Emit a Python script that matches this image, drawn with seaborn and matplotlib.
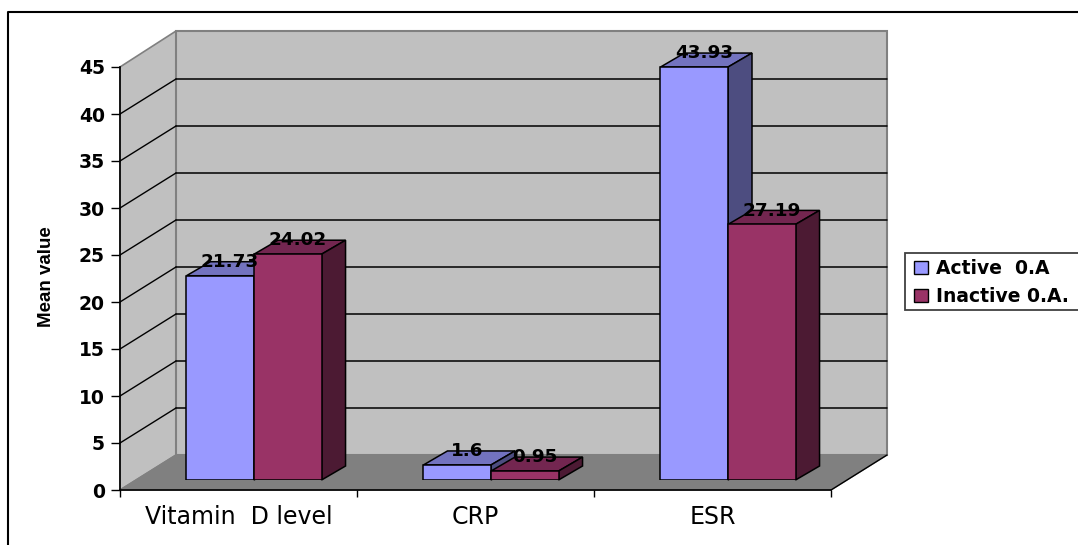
import pandas as pd
import matplotlib
matplotlib.use("Agg")
import matplotlib.pyplot as plt
import seaborn as sns
from matplotlib.patches import Polygon, Rectangle

categories = ["Vitamin  D level", "CRP", "ESR"]
active = [21.73, 1.6, 43.93]
inactive = [24.02, 0.95, 27.19]
series_names = ["Active  0.A", "Inactive 0.A."]
y_ticks = list(range(0, 50, 5))

W, H = 1078, 545
FACE = {"Active  0.A": "#9999FF", "Inactive 0.A.": "#993366"}
TOP = {"Active  0.A": "#7373BF", "Inactive 0.A.": "#732650"}
SIDE = {"Active  0.A": "#4D4D80", "Inactive 0.A.": "#4C1A33"}

df = pd.DataFrame({
    "category": categories * 2,
    "series": [series_names[0]] * 3 + [series_names[1]] * 3,
    "value": active + inactive,
})

sns.set_theme(style="white")
plt.rcParams["font.family"] = ["DejaVu Sans"]

fig = plt.figure(figsize=(W / 100, H / 100), dpi=100)


def px_axes(left, top, right, bottom):
    return fig.add_axes([left / W, 1 - bottom / H, (right - left) / W, (bottom - top) / H])


# fondo: paredes y suelo en pixeles
bg = fig.add_axes([0, 0, 1, 1])
bg.set_xlim(0, W)
bg.set_ylim(H, 0)
bg.axis("off")
bg.plot([8, 8, W], [H, 12, 12], color="black", lw=1.5, clip_on=False)
bg.add_patch(Polygon([(120, 67), (176, 31), (176, 455), (120, 490)], fc="#C0C0C0", ec="#808080", lw=1.2))
bg.add_patch(Rectangle((176, 31), 711, 424, fc="#C0C0C0", ec="#808080", lw=1.5))
bg.add_patch(Polygon([(120, 490), (176, 455), (887, 455), (831, 490)], fc="#808080", ec="#808080", lw=1))
for t in y_ticks[1:-1]:
    yf = 490 - t * 9.4
    bg.plot([120, 176], [yf, yf - 35], color="black", lw=1)
    bg.plot([176, 887], [yf - 35, yf - 35], color="black", lw=1.1)
bg.plot([831, 887], [490, 455], color="black", lw=1)

# eje frontal con las marcas
ax = px_axes(120, 67, 831, 490)
ax.patch.set_alpha(0)
ax.set_xlim(-0.5, 2.5)
ax.set_ylim(0, 45)
ax.set_yticks(y_ticks)
ax.set_yticklabels([str(t) for t in y_ticks], fontsize=13.5, fontweight="bold", color="black")
ax.set_xticks([-0.5, 0.5, 1.5, 2.5])
ax.set_xticklabels([])
ax.set_xticks([0, 1, 2], minor=True)
ax.set_xticklabels(categories, minor=True, fontsize=17, color="black")
ax.tick_params(axis="x", which="major", length=5, width=1, color="black", bottom=True)
ax.tick_params(axis="x", which="minor", length=0, pad=11, bottom=True)
ax.tick_params(axis="y", length=6.5, width=1, color="black", left=True, pad=4.5)
for s in ["top", "right"]:
    ax.spines[s].set_visible(False)
for s in ["left", "bottom"]:
    ax.spines[s].set_color("black")
    ax.spines[s].set_linewidth(1.2)
fig.text(47 / W, 1 - 277 / H, "Mean value", rotation=90, ha="center", va="center",
         fontsize=13.5, fontweight="bold", family="Liberation Sans", color="black")

# barras: plano desplazado hacia el fondo
bars = px_axes(135.5, 57, 846.5, 480)
bars.patch.set_alpha(0)
sns.barplot(data=df, x="category", y="value", hue="series", hue_order=series_names,
            palette=FACE, saturation=1, width=0.57, gap=0, edgecolor="black", linewidth=1.1,
            legend=False, ax=bars)
bars.set_xlim(-0.5, 2.5)
bars.set_ylim(0, 45)
bars.axis("off")

dx = 24 / 237
dy = 14 / 9.4
# caras de profundidad por debajo de las frontales, la serie Inactive encima de Active
for z, name, cont in zip([0.5, 0.6], series_names, bars.containers):
    for b in cont:
        x0, x1, top = b.get_x(), b.get_x() + b.get_width(), b.get_height()
        bars.add_patch(Polygon([(x0, top), (x1, top), (x1 + dx, top + dy), (x0 + dx, top + dy)],
                               fc=TOP[name], ec="black", lw=1.1, clip_on=False, zorder=z))
        bars.add_patch(Polygon([(x1, 0), (x1 + dx, dy), (x1 + dx, top + dy), (x1, top)],
                               fc=SIDE[name], ec="black", lw=1.1, clip_on=False, zorder=z))

for cont, vals in zip(bars.containers, [active, inactive]):
    for b, v in zip(cont, vals):
        bars.annotate(str(v), (b.get_x() + b.get_width() / 2, v), xytext=(7, 10),
                      textcoords="offset points", ha="center", va="center",
                      fontsize=13.2, fontweight="bold", color="black", annotation_clip=False, zorder=6)

# leyenda
bg.add_patch(Rectangle((905, 253), 180, 57, fc="white", ec="#404040", lw=1.3, clip_on=True))
handles = [Rectangle((0, 0), 1, 1, fc=FACE[n], ec="black", lw=1) for n in series_names]
fig.legend(handles, series_names, loc="center left", bbox_to_anchor=(914 / W, 1 - 282.5 / H),
           frameon=False, prop={"size": 13.5, "weight": "bold"}, labelcolor="black",
           handlelength=0.75, handleheight=0.7, handletextpad=0.4, labelspacing=0.5,
           borderpad=0, borderaxespad=0)

fig.savefig("out.png", dpi=100)
